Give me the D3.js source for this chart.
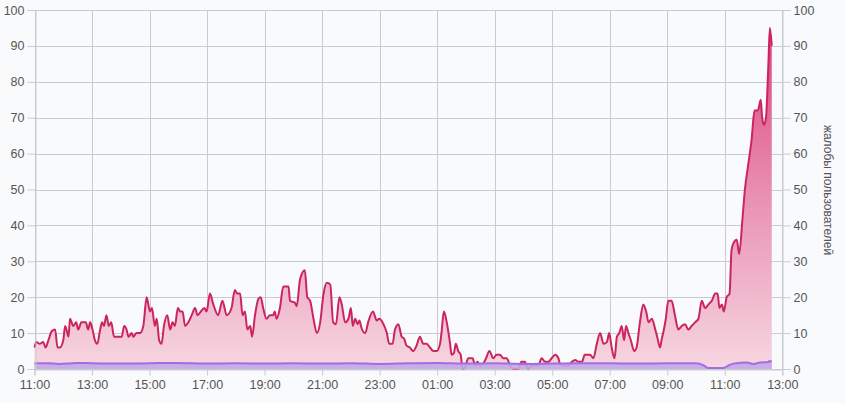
<!DOCTYPE html>
<html><head><meta charset="utf-8">
<script src="https://cdn.jsdelivr.net/npm/d3@7"></script>
<style>
html,body{margin:0;padding:0;background:#f9fafc;}
svg{display:block;font-family:"Liberation Sans",Arial,sans-serif;}
</style></head>
<body><svg id="c" width="846" height="403"></svg>
<script>
// minutes since 11:00 (day 1) and complaint counts
const complaintMinutes = [0,4,11,18,23,29,36,43,48,53,60,64,71,74,81,87,91,98,107,112,116,121,126,131,137,141,145,150,155,160,166,182,187,192,196,203,206,213,220,227,234,241,245,251,255,260,265,270,277,283,288,293,299,304,309,314,321,328,335,340,347,354,359,366,373,383,392,401,411,418,423,429,434,439,444,450,454,460,467,472,477,484,491,498,501,505,512,
519,530,533,543,547,554,564,569,575,582,589,596,603,610,617,623,629,636,641,648,655,660,664,669,674,678,682,690,696,706,714,719,728,735,740,747,752,759,766,771,776,783,790,797,804,811,818,825,832,839,846,849,854,860,867,870,875,879,884,889,893,898,905,914,919,924,929,936,942,949,957,964,971,978,985,992,999,1009,1016,1023,1030,1037,1044,1051,1058,1065,1072,1079,1086,1093,
1096,1103,1114,1121,1128,1135,1142,1148,1159,1166,1173,1180,1187,1194,1199,1204,1210,1215,1220,1225,1230,1234,1239,1244,1251,1256,1263,1270,1276,1281,1288,1295,1299,1305,1308,1313,1317,1322,1329,1336,1343,1350,1357,1364,1371,1378,1385,1392,1399,1406,1413,1420,1425,1429,1434,1438,1444,1450,1454,1458,1465,1470,1477,1482,1489,1496,1502,1509,1515,1518,1522,1526,1531,1534,1538];
const complaintValues = [6,7.5,7,7.5,6,8,10.5,11,6,6,8,12,9,14,12,13,11,13,13,11,13,11,8,7,11,13,12,15,12,13,9,9,12,11,9,10,9,10,10,12,20,16,17,12,14,8,7,12,15,11,13,12,17,16,16,12,13,15,17,15,16,17,16,21,18,15,19,15,17,22,21,21,15,16,11,12,9,15,19.5,20,17,14,15,15,16,14,17,
23,23,19,18.5,17.5,25,27.5,20,19,14,10,13,21,24,23.5,13,12.5,20,18,13,14,17,12,14,12.5,13.5,11.5,10,13,16,13.5,14,12.5,10,7,7,11,12.5,9,8.5,6.5,6,5,6.5,9,7,7,6,5,5,7,10,16,13,7,4,4.5,7,5,4,0,0.5,3,3,1,2,1,1.5,3,5,3,4,4,3,3,1,0,0,2,2,0,1,1,1,3,2,2,3,4,3,
1.5,1,1,2,2.5,2,2,4,4,3,7,10,7,7.5,10,6,3,9,10,12,8,12,10,8,5,6,13,18,16,13,14,11,9,6,8,11,14,19,19,15,11,12,12.5,11,12,13,14,19,17,18,19,21,21,17,18,16,20,21,33,35,36,32,42,50,57,64,72,72,75,70,68,70,85,95,90];
const baseMinutes = [0,30,50,70,90,120,180,240,300,360,420,480,540,600,660,720,780,840,900,960,1020,1080,1140,1200,1260,1320,1380,1395,1405,1420,1437,1448,1458,1486,1500,1514,1530,1534,1538];
const baseValues = [1.6,1.6,1.4,1.5,1.7,1.6,1.5,1.6,1.7,1.5,1.6,1.5,1.6,1.5,1.6,1.4,1.6,1.7,1.5,1.6,1.4,1.5,1.6,1.6,1.5,1.6,1.6,1.1,0.3,0.3,0.3,1.0,1.5,1.8,1.4,1.8,1.9,2.2,2.0];
const xTickLabels = ["11:00","13:00","15:00","17:00","19:00","21:00","23:00","01:00","03:00","05:00","07:00","09:00","11:00","13:00"];
const yTicks = [0,10,20,30,40,50,60,70,80,90,100];
const axisTitle = "жалобы пользователей";

const svg = d3.select("#c");
const L = 34.5, R = 782.3, T = 10, B = 369;
svg.append("rect").attr("width",846).attr("height",403).attr("fill","#f9fafc");

const x = d3.scaleLinear().domain([0, 26*60]).range([L, R]);
const y = d3.scaleLinear().domain([0, 100]).range([B, T]);

const defs = svg.append("defs");
const g1 = defs.append("linearGradient").attr("id","redfill").attr("gradientUnits","userSpaceOnUse")
  .attr("x1",0).attr("x2",0).attr("y1",T).attr("y2",B);
g1.append("stop").attr("offset","0%").attr("stop-color","#d93d76");
g1.append("stop").attr("offset","55%").attr("stop-color","#ea95b4");
g1.append("stop").attr("offset","100%").attr("stop-color","#f6d6e1");

const gridColor = "#c9cbd1";
// grid
svg.append("g").selectAll("line").data(yTicks).join("line")
  .attr("x1",L).attr("x2",R).attr("y1",d=>Math.round(y(d))+0.5).attr("y2",d=>Math.round(y(d))+0.5)
  .attr("stroke",gridColor).attr("stroke-width",1);
const xTickVals = xTickLabels.map((d,i)=>i*120);
svg.append("g").selectAll("line").data(xTickVals).join("line")
  .attr("x1",d=>Math.round(x(d))+0.5).attr("x2",d=>Math.round(x(d))+0.5).attr("y1",T).attr("y2",B)
  .attr("stroke",gridColor).attr("stroke-width",1);

const red = complaintMinutes.map((m,i)=>({m, v:complaintValues[i]}));
const base = baseMinutes.map((m,i)=>({m, v:baseValues[i]}));
const curve = d3.curveMonotoneX;
svg.append("path").datum(red).attr("fill","url(#redfill)")
  .attr("d", d3.area().x(d=>x(d.m)).y0(B).y1(d=>y(d.v)).curve(curve));
svg.append("path").datum(red).attr("fill","none").attr("stroke","#cc245e").attr("stroke-width",2).attr("stroke-linejoin","round")
  .attr("d", d3.line().x(d=>x(d.m)).y(d=>y(d.v)).curve(curve));
svg.append("path").datum(base).attr("fill","#c3a8ea").attr("opacity",0.9)
  .attr("d", d3.area().x(d=>x(d.m)).y0(B).y1(d=>y(d.v)).curve(curve));
svg.append("path").datum(base).attr("fill","none").attr("stroke","#9f6fe0").attr("stroke-width",2)
  .attr("d", d3.line().x(d=>x(d.m)).y(d=>y(d.v)).curve(curve));

// axes
const txtColor = "#555";
const yl = d3.axisLeft(y).tickValues(yTicks).tickSize(8).tickPadding(3);
const yr = d3.axisRight(y).tickValues(yTicks).tickSize(8).tickPadding(3);
const xb = d3.axisBottom(x).tickValues(xTickVals).tickFormat((d,i)=>xTickLabels[i]).tickSize(6).tickPadding(5);
function style(g){
  g.select(".domain").attr("stroke",gridColor);
  g.selectAll(".tick line").attr("stroke",gridColor);
  g.selectAll("text").attr("fill",txtColor).style("font-size","12.5px").style("font-family","'Liberation Sans',Arial,sans-serif");
}
svg.append("g").attr("transform",`translate(${Math.round(L)+0.5},0)`).call(yl).call(style);
svg.append("g").attr("transform",`translate(${Math.round(R)+0.5},0)`).call(yr).call(style);
svg.append("g").attr("transform",`translate(0,${B+0.5})`).call(xb).call(style);

svg.append("text").attr("transform","translate(824,190) rotate(90)").attr("text-anchor","middle")
  .attr("fill",txtColor).style("font-size","12px").text(axisTitle);
</script></body></html>
